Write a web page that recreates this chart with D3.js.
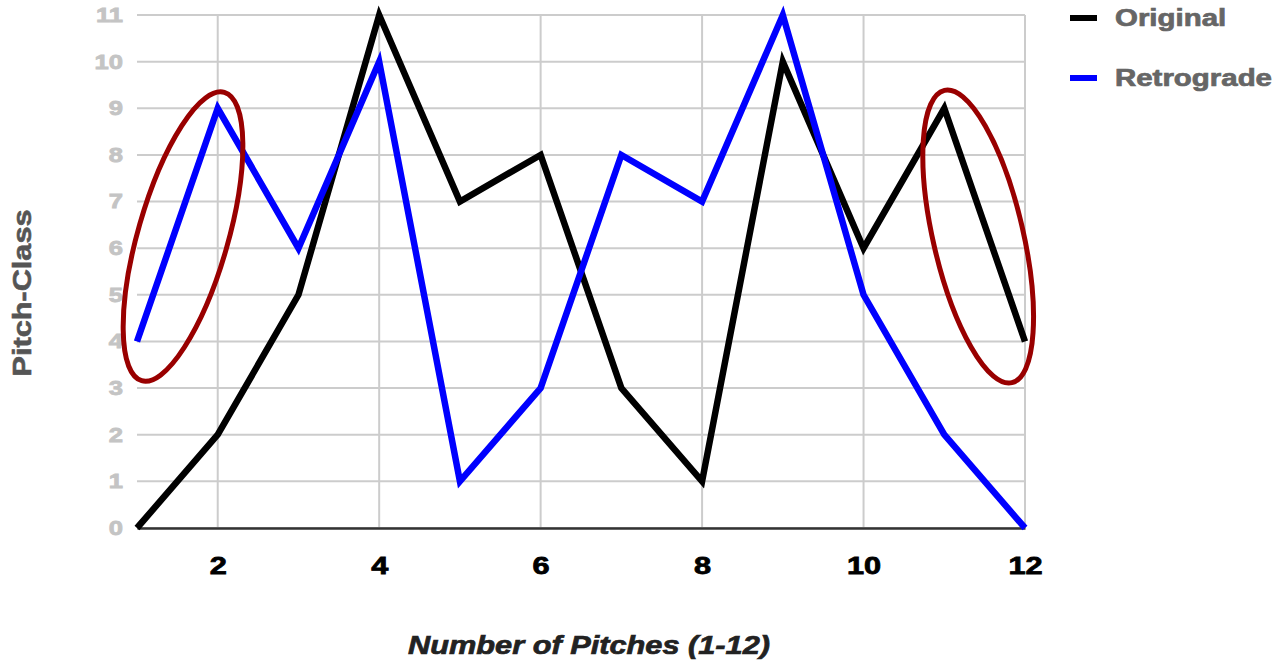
<!DOCTYPE html>
<html lang="en">
<head>
<meta charset="utf-8">
<title>Original vs Retrograde</title>
<script src="https://d3js.org/d3.v7.min.js"></script>
<style>
  body { margin: 0; background: #fff; }
  svg text { font-family: "Liberation Sans", Arial, sans-serif; font-weight: bold; }
</style>
</head>
<body>
<script>
// data
var pitches = [1, 2, 3, 4, 5, 6, 7, 8, 9, 10, 11, 12];
var original = [0, 2, 5, 11, 7, 8, 3, 1, 10, 6, 9, 4];
var retrograde = [4, 9, 6, 10, 1, 3, 8, 7, 11, 5, 2, 0];
var seriesNames = ["Original", "Retrograde"];
var seriesColors = ["#000000", "#0000ff"];
var xTicks = [2, 4, 6, 8, 10, 12];
var yTicks = [0, 1, 2, 3, 4, 5, 6, 7, 8, 9, 10, 11];

// highlighted regions (data units): center x, center y, angle
var highlights = [
  { cx: 1.57, cy: 6.25, angle: 16 },
  { cx: 11.42, cy: 6.25, angle: -13 }
];

var w = 1275, h = 662;
var plotLeft = 137, plotRight = 1025, plotTop = 15, plotBottom = 528;
var SX = 1.28; // text in the picture is stretched sideways

var svg = d3.select("body").append("svg")
  .attr("width", w)
  .attr("height", h);

var x = d3.scaleLinear().domain([1, 12]).range([plotLeft, plotRight]);
var y = d3.scaleLinear().domain([0, 11]).range([plotBottom, plotTop]);

// horizontal grid
svg.append("g")
  .selectAll("line")
  .data(yTicks)
  .enter()
  .append("line")
  .attr("x1", plotLeft).attr("x2", plotRight)
  .attr("y1", function(d) { return y(d); })
  .attr("y2", function(d) { return y(d); })
  .attr("stroke", "#cccccc")
  .attr("stroke-width", 2);

// vertical grid
svg.append("g")
  .selectAll("line")
  .data(xTicks)
  .enter()
  .append("line")
  .attr("x1", function(d) { return x(d); })
  .attr("x2", function(d) { return x(d); })
  .attr("y1", plotTop).attr("y2", plotBottom)
  .attr("stroke", "#cccccc")
  .attr("stroke-width", 2);

// x axis
var xAxis = svg.append("g")
  .attr("transform", "translate(0," + plotBottom + ")")
  .call(d3.axisBottom(x).tickValues(xTicks).tickSize(0).tickPadding(29));
xAxis.select(".domain").attr("stroke", "#333333").attr("stroke-width", 2.5);
xAxis.selectAll("text")
  .attr("font-size", 24)
  .attr("fill", "#000")
  .attr("stroke", "#000")
  .attr("stroke-width", 0.8)
  .attr("font-family", "Liberation Sans, Arial, sans-serif")
  .attr("font-weight", "bold")
  .attr("transform", "scale(" + SX + ",1)");

// y axis
var yAxis = svg.append("g")
  .attr("transform", "translate(" + plotLeft + ",0)")
  .call(d3.axisLeft(y).tickValues(yTicks).tickSize(0).tickPadding(11));
yAxis.select(".domain").remove();
yAxis.selectAll("text")
  .attr("font-size", 20)
  .attr("fill", "#c4c4c4")
  .attr("stroke", "#c4c4c4")
  .attr("stroke-width", 0.8)
  .attr("font-family", "Liberation Sans, Arial, sans-serif")
  .attr("font-weight", "bold")
  .attr("transform", "scale(" + SX + ",1)")
  .attr("x", -14 / SX);

// lines
var line = d3.line()
  .x(function(d, i) { return x(pitches[i]); })
  .y(function(d) { return y(d); });

[original, retrograde].forEach(function(s, i) {
  svg.append("path")
    .datum(s)
    .attr("d", line)
    .attr("fill", "none")
    .attr("stroke", seriesColors[i])
    .attr("stroke-width", 6.5)
    .attr("stroke-linejoin", "miter");
});

// ellipses
svg.append("g")
  .selectAll("ellipse")
  .data(highlights)
  .enter()
  .append("ellipse")
  .attr("transform", function(d) {
    return "translate(" + x(d.cx) + "," + y(d.cy) + ") rotate(" + d.angle + ")";
  })
  .attr("rx", 45)
  .attr("ry", 150)
  .attr("fill", "none")
  .attr("stroke", "#990000")
  .attr("stroke-width", 5);

// legend
var legend = svg.append("g")
  .selectAll("g")
  .data(seriesNames)
  .enter()
  .append("g")
  .attr("transform", function(d, i) { return "translate(1070," + (18 + i * 60) + ")"; });
legend.append("rect")
  .attr("x", 0).attr("y", -3)
  .attr("width", 27).attr("height", 6)
  .attr("fill", function(d, i) { return seriesColors[i]; });
legend.append("text")
  .attr("transform", "translate(45,0) scale(" + SX + ",1)")
  .attr("dy", "0.35em")
  .attr("font-size", 23)
  .attr("fill", "#666666")
  .attr("stroke", "#666666")
  .attr("stroke-width", 0.7)
  .text(function(d) { return d; });

// axis titles
svg.append("text")
  .attr("x", 589).attr("y", 654)
  .attr("text-anchor", "middle")
  .attr("font-size", 26)
  .attr("font-style", "italic")
  .attr("fill", "#222222")
  .attr("stroke", "#222222")
  .attr("stroke-width", 0.7)
  .attr("textLength", 362)
  .attr("lengthAdjust", "spacingAndGlyphs")
  .text("Number of Pitches (1-12)");

svg.append("text")
  .attr("transform", "translate(31,293) rotate(-90)")
  .attr("text-anchor", "middle")
  .attr("font-size", 26)
  .attr("fill", "#555555")
  .attr("stroke", "#555555")
  .attr("stroke-width", 0.6)
  .attr("textLength", 167)
  .attr("lengthAdjust", "spacingAndGlyphs")
  .text("Pitch-Class");
</script>
</body>
</html>
